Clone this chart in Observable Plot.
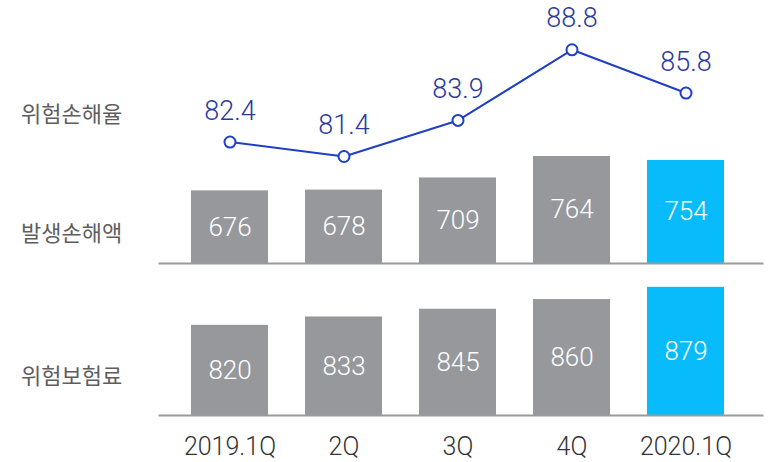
<!DOCTYPE html>
<html><head><meta charset="utf-8">
<script src="https://cdn.jsdelivr.net/npm/d3@7"></script>
<script src="https://cdn.jsdelivr.net/npm/@observablehq/plot@0.6"></script>
<style>
html,body{margin:0;padding:0;background:#fff;}
#wrap{position:relative;width:773px;height:462px;overflow:hidden;}
#wrap svg{position:absolute;left:0;top:0;background:transparent;}
.rowlab{position:absolute;left:21px;font-family:"Noto Sans CJK KR",sans-serif;font-size:22px;color:#5e5e5e;line-height:1;transform:translateY(-50%);white-space:nowrap;}
</style>
</head><body>
<div id="wrap"></div>
<script>
const quarters = ["2019.1Q", "2Q", "3Q", "4Q", "2020.1Q"];
const lossRatio = [82.4, 81.4, 83.9, 88.8, 85.8];      // 위험손해율
const lossAmount = [676, 678, 709, 764, 754];           // 발생손해액
const riskPremium = [820, 833, 845, 860, 879];          // 위험보험료
const rowLabels = ["위험손해율", "발생손해액", "위험보험료"];
const highlight = "2020.1Q";

const W = 773, H = 462;
const GRAY = "#96989c", CYAN = "#08bcfb";
const xOpts = {type: "band", domain: quarters, range: [152, 763], padding: 0.3275};
const common = {width: W, height: H, marginLeft: 159, marginRight: 11, style: {background: "transparent"}};

const rows = (vals) => quarters.map((q, i) => ({q, v: vals[i]}));
const wrap = document.getElementById("wrap");

function barPanel(vals, top, bottom, domain, showAxis) {
  const d = rows(vals);
  return Plot.plot({
    ...common, marginTop: top, marginBottom: bottom,
    x: {...xOpts, axis: null},
    y: {domain, axis: null},
    marks: [
      Plot.barY(d, {x: "q", y: "v", fill: r => r.q === highlight ? CYAN : GRAY, clip: true}),
      Plot.text(d, {x: "q", y: r => (domain[0] + r.v) / 2, text: r => String(r.v), fill: "white",
        fontSize: 26, fontWeight: 300, fontFamily: "Roboto, sans-serif"}),
      Plot.frame({anchor: "bottom", stroke: "#9a9a9a", strokeWidth: 2}),
      ...(showAxis ? [Plot.axisX({tickSize: 0, tickPadding: 22, fontSize: 25, fontWeight: 300, fontFamily: "Roboto, sans-serif", color: "#333", label: null})] : [])
    ]
  });
}

// bottom panel: 위험보험료
wrap.appendChild(barPanel(riskPremium, 280, 47, [680, 889.6], true));
// middle panel: 발생손해액
wrap.appendChild(barPanel(lossAmount, 140, 199, [490, 805], false));

// top panel: 위험손해율 line
const lr = rows(lossRatio);
wrap.appendChild(Plot.plot({
  ...common, marginTop: 0, marginBottom: 287,
  x: {...xOpts, axis: null},
  y: {domain: [80.08, 92.22], axis: null},
  marks: [
    Plot.line(lr, {x: "q", y: "v", stroke: "#1f3fc4", strokeWidth: 2}),
    Plot.dot(lr, {x: "q", y: "v", r: 5.5, fill: "white", stroke: "#1f3fc4", strokeWidth: 2}),
    Plot.text(lr, {x: "q", y: "v", text: r => r.v.toFixed(1), dy: -31, fill: "#2b3a9c",
      fontSize: 27, fontWeight: 300, fontFamily: "Roboto, sans-serif"})
  ]
}));

// row labels
const rowY = [112, 231, 374];
rowLabels.forEach((t, i) => {
  const el = document.createElement("div");
  el.className = "rowlab";
  el.style.top = rowY[i] + "px";
  el.textContent = t;
  wrap.appendChild(el);
});
</script>
</body></html>
